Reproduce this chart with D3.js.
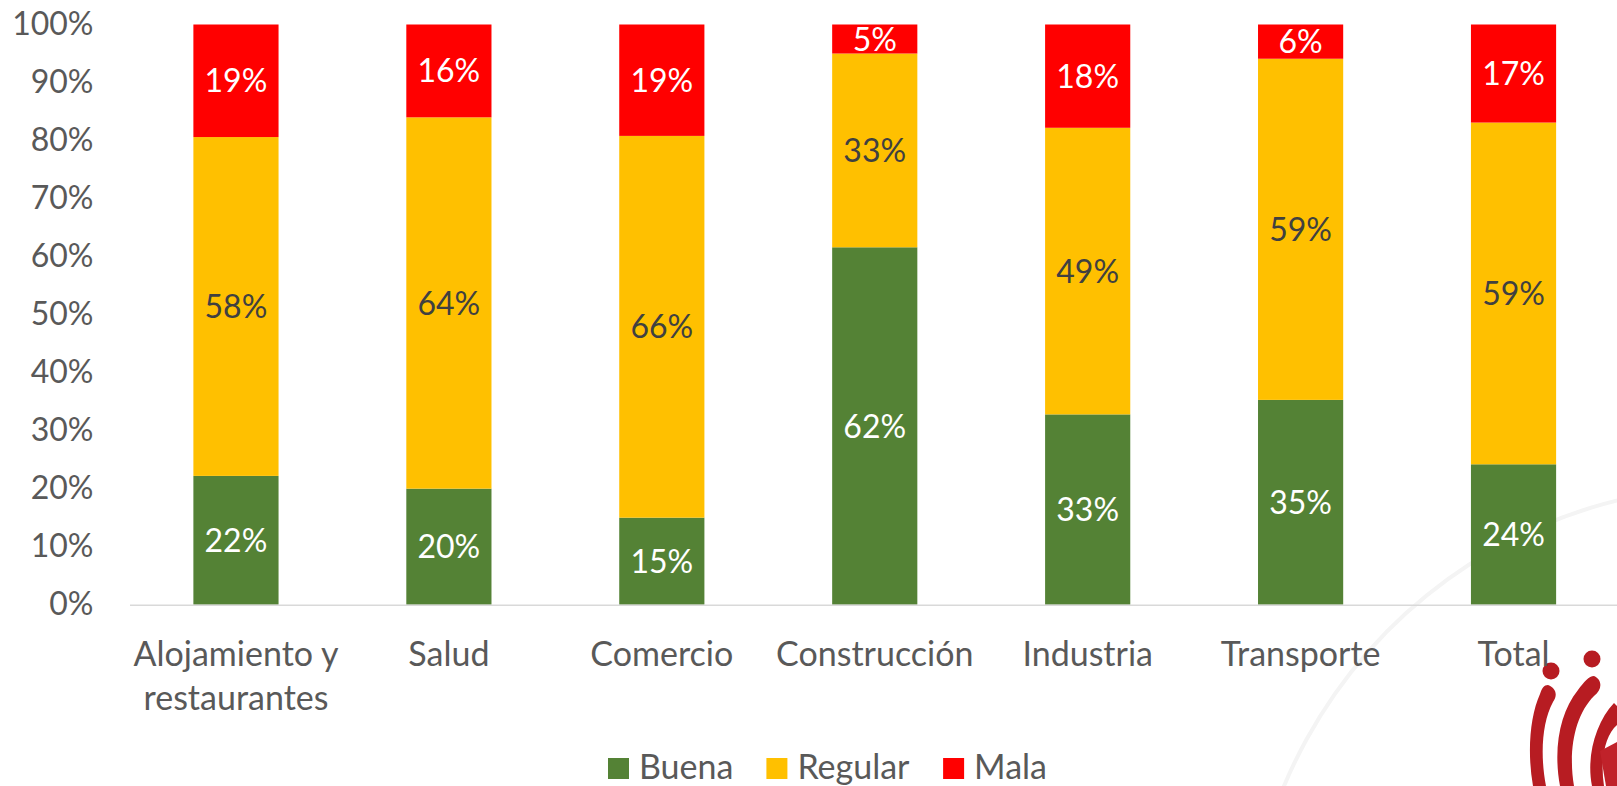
<!DOCTYPE html>
<html>
<head>
<meta charset="utf-8">
<script src="https://cdn.jsdelivr.net/npm/d3@7"></script>
<style>
  body { margin: 0; background: #fff; }
  text { font-family: Lato, "Open Sans", sans-serif; }
</style>
</head>
<body>
<div id="wrapper"></div>
<script>
// data (shares, each column sums to ~1)
const categories = ["Alojamiento y\nrestaurantes", "Salud", "Comercio", "Construcción", "Industria", "Transporte", "Total"];
const seriesNames = ["Buena", "Regular", "Mala"];
const buena   = [0.222, 0.200, 0.150, 0.616, 0.328, 0.353, 0.242];
const regular = [0.584, 0.640, 0.658, 0.334, 0.494, 0.588, 0.589];
const mala    = [0.194, 0.160, 0.192, 0.050, 0.178, 0.059, 0.169];
const yTicks = [0, 0.1, 0.2, 0.3, 0.4, 0.5, 0.6, 0.7, 0.8, 0.9, 1];

const colors = { Buena: "#548235", Regular: "#FFC000", Mala: "#FF0000" };
const labelColors = { Buena: "#ffffff", Regular: "#404040", Mala: "#ffffff" };

let dimensions = {
    width: 1617,
    height: 786,
    margin: { top: 24.5, right: 0, bottom: 181.3, left: 129.5 }
}
dimensions.boundedWidth = dimensions.width - dimensions.margin.left - dimensions.margin.right;
dimensions.boundedHeight = dimensions.height - dimensions.margin.top - dimensions.margin.bottom;

const table = categories.map((c, i) => ({ cat: c, Buena: buena[i], Regular: regular[i], Mala: mala[i] }));
const stacked = d3.stack().keys(seriesNames)(table);

const svg = d3.select("#wrapper")
    .append("svg")
    .attr("width", dimensions.width)
    .attr("height", dimensions.height);

// faint background arc + logo (decoration)
svg.append("path")
    .attr("d", d3.arc()({ innerRadius: 487, outerRadius: 491, startAngle: -Math.PI * 0.62, endAngle: -Math.PI * 0.06 }))
    .attr("transform", "translate(1735,975)")
    .attr("fill", "#f4f4f4");

const logo = svg.append("g").attr("fill", "#b71c22");
logo.append("circle").attr("cx", 1551).attr("cy", 671).attr("r", 8.5);
logo.append("circle").attr("cx", 1592).attr("cy", 659).attr("r", 8.5);
logo.append("path").attr("d", "M1548,685 C1556,688 1558,695 1553,702 C1542,722 1540,755 1546,786 L1533,786 C1527,752 1530,716 1540,694 C1542,688 1544,685 1548,685 Z");
logo.append("path").attr("d", "M1594,676 C1603,680 1602,690 1594,696 C1575,715 1568,750 1574,786 L1560,786 C1553,748 1560,712 1578,690 C1584,682 1589,676 1594,676 Z");
logo.append("path").attr("d", "M1614,703 L1617,706 L1617,725 C1605,735 1600,760 1604,786 L1592,786 C1586,756 1596,722 1614,703 Z");
logo.append("path").attr("d", "M1600,751 L1617,742 L1617,786 L1606,786 Z").attr("fill", "#c0222a");

const g = svg.append("g")
    .attr("transform", `translate(${dimensions.margin.left},${dimensions.margin.top})`);

const xScale = d3.scaleBand()
    .domain(categories)
    .range([0, dimensions.boundedWidth + 3])
    .paddingInner(0.6)
    .paddingOuter(0.3);

const yScale = d3.scaleLinear()
    .domain([0, 1])
    .range([dimensions.boundedHeight, 0]);

// y axis labels
const yAxis = g.append("g")
    .call(d3.axisLeft(yScale).tickValues(yTicks).tickFormat(d3.format(".0%")).tickSize(0).tickPadding(36));
yAxis.select(".domain").remove();
yAxis.selectAll("text")
    .attr("font-family", "Lato")
    .attr("font-size", 32)
    .attr("fill", "#595959");

// bars
const layers = g.selectAll(".layer")
    .data(stacked)
    .join("g")
    .attr("class", "layer")
    .attr("fill", d => colors[d.key]);

layers.selectAll("rect")
    .data(d => d)
    .join("rect")
    .attr("x", d => xScale(d.data.cat))
    .attr("y", d => yScale(d[1]))
    .attr("width", xScale.bandwidth())
    .attr("height", d => yScale(d[0]) - yScale(d[1]));

// data labels
layers.selectAll("text")
    .data(d => d.map(v => ({ v, key: d.key })))
    .join("text")
    .attr("x", d => xScale(d.v.data.cat) + xScale.bandwidth() / 2)
    .attr("y", d => (yScale(d.v[0]) + yScale(d.v[1])) / 2)
    .attr("dy", "0.36em")
    .attr("text-anchor", "middle")
    .attr("font-size", 32)
    .attr("fill", d => labelColors[d.key])
    .text(d => d3.format(".0%")(d.v[1] - d.v[0]));

// x axis
const xAxis = g.append("g")
    .attr("transform", `translate(0,${dimensions.boundedHeight})`)
    .call(d3.axisBottom(xScale).tickSize(0).tickFormat(""));
xAxis.select(".domain")
    .attr("stroke", "#d9d9d9")
    .attr("stroke-width", 1.5);
xAxis.selectAll(".tick").each(function (d) {
    const lines = d.split("\n");
    const t = d3.select(this).append("text")
        .attr("text-anchor", "middle")
        .attr("font-size", 34)
        .attr("fill", "#595959")
        .attr("y", 61);
    lines.forEach((line, i) => {
        t.append("tspan").attr("x", 0).attr("dy", i === 0 ? 0 : 44).text(line);
    });
});

// legend
const legend = svg.append("g").attr("transform", "translate(0,779)");
let lx = 0;
const items = legend.selectAll("g")
    .data(seriesNames)
    .join("g");
items.append("rect")
    .attr("y", -21)
    .attr("width", 21)
    .attr("height", 21)
    .attr("fill", d => colors[d]);
items.append("text")
    .attr("x", 31)
    .attr("font-size", 34)
    .attr("fill", "#595959")
    .text(d => d);
items.each(function () {
    d3.select(this).attr("transform", `translate(${lx},0)`);
    lx += this.getBBox().width + 33;
});
lx -= 33;
legend.attr("transform", `translate(${827.5 - lx / 2},779)`);
</script>
</body>
</html>
